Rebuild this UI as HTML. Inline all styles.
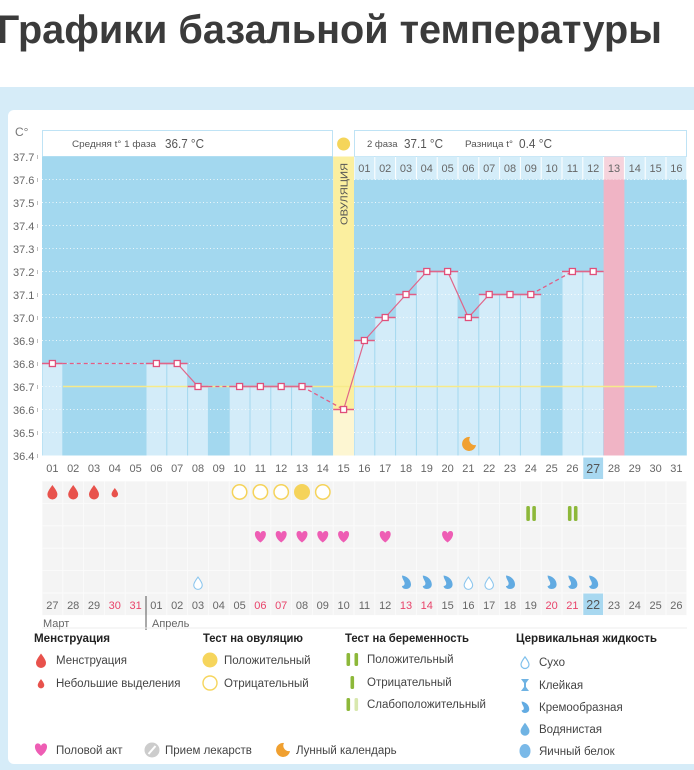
<!DOCTYPE html>
<html><head><meta charset="utf-8"><style>
html,body{margin:0;padding:0;background:#fff;}
svg{display:block;font-family:"Liberation Sans","DejaVu Sans",sans-serif;}
</style></head><body>
<svg width="694" height="770" viewBox="0 0 694 770" xmlns="http://www.w3.org/2000/svg">
<defs>
<pattern id="cells" x="42" y="481" width="20.8" height="22.4" patternUnits="userSpaceOnUse">
<rect x="0" y="0" width="20.8" height="22.4" fill="#fbfbfb"/>
<rect x="0.5" y="0.5" width="19.8" height="21.4" fill="#f4f4f4"/>
</pattern>
<path id="drop" d="M0,-7 C3,-3 5,0 5,2.5 A5,5 0 0 1 -5,2.5 C-5,0 -3,-3 0,-7Z"/>
<path id="heart" d="M0,5.5 C-7,0.5 -6.5,-6 -3,-6 C-1.2,-6 0,-4.5 0,-3.3 C0,-4.5 1.2,-6 3,-6 C6.5,-6 7,0.5 0,5.5 Z"/>
<path id="cream" d="M-4,-6.5 C1,-6 5,-2 5,2.5 C5,5.5 2.5,7 0,7 C-2.5,7 -4,5.5 -4,4 C-2,4 -1,2.5 -1.5,0.5 C-2,-1.5 -4,-3.5 -4,-6.5 Z"/>
<path id="moon" d="M1,-7 A7,7 0 1 0 7,1 A5.5,5.5 0 0 1 1,-7 Z"/>
</defs>

<!-- Title -->
<text x="-3" y="43" font-size="40" font-weight="bold" fill="#3b3b3b" textLength="665" lengthAdjust="spacingAndGlyphs">Графики базальной температуры</text>

<!-- light blue panel and card -->
<rect x="0" y="87" width="694" height="683" fill="#d6ecf8"/>
<rect x="8" y="110" width="700" height="654" rx="6" fill="#ffffff"/>

<!-- C° -->
<text x="15" y="136" font-size="12" fill="#777">C°</text>

<!-- header boxes -->
<rect x="42.5" y="130.5" width="290" height="26" fill="#fff" stroke="#bfe3f5"/>
<text x="72" y="147" font-size="9.5" fill="#555" textLength="84" lengthAdjust="spacingAndGlyphs">Средняя t° 1 фаза</text>
<text x="165" y="148" font-size="12.5" fill="#555" textLength="39" lengthAdjust="spacingAndGlyphs">36.7 °C</text>
<rect x="354.5" y="130.5" width="332" height="26" fill="#fff" stroke="#bfe3f5"/>
<text x="367" y="147" font-size="9.5" fill="#555">2 фаза</text>
<text x="404" y="148" font-size="12.5" fill="#555" textLength="39" lengthAdjust="spacingAndGlyphs">37.1 °C</text>
<text x="465" y="147" font-size="9.5" fill="#555" textLength="48" lengthAdjust="spacingAndGlyphs">Разница t°</text>
<text x="519" y="148" font-size="12.5" fill="#555" textLength="33" lengthAdjust="spacingAndGlyphs">0.4 °C</text>
<circle cx="343.6" cy="144" r="6.5" fill="#f5d55a"/>

<!-- plot backgrounds -->
<rect x="42" y="156.5" width="291.2" height="299" fill="#a3d8ef"/>
<rect x="354" y="179.5" width="332.8" height="276" fill="#a3d8ef"/>
<!-- right day row -->
<g fill="#d4edf9">
<rect x="354.5" y="156.5" width="19.8" height="23"/><rect x="375.3" y="156.5" width="19.8" height="23"/><rect x="396.1" y="156.5" width="19.8" height="23"/><rect x="416.9" y="156.5" width="19.8" height="23"/><rect x="437.7" y="156.5" width="19.8" height="23"/><rect x="458.5" y="156.5" width="19.8" height="23"/><rect x="479.3" y="156.5" width="19.8" height="23"/><rect x="500.1" y="156.5" width="19.8" height="23"/><rect x="520.9" y="156.5" width="19.8" height="23"/><rect x="541.7" y="156.5" width="19.8" height="23"/><rect x="562.5" y="156.5" width="19.8" height="23"/><rect x="583.3" y="156.5" width="19.8" height="23"/><rect x="624.9" y="156.5" width="19.8" height="23"/><rect x="645.7" y="156.5" width="19.8" height="23"/><rect x="666.5" y="156.5" width="19.8" height="23"/>
</g>
<rect x="604.1" y="156.5" width="19.8" height="23" fill="#f6d3dc"/>
<g font-size="11" fill="#666" text-anchor="middle">
<text x="364.4" y="172">01</text><text x="385.2" y="172">02</text><text x="406" y="172">03</text><text x="426.8" y="172">04</text><text x="447.6" y="172">05</text><text x="468.4" y="172">06</text><text x="489.2" y="172">07</text><text x="510" y="172">08</text><text x="530.8" y="172">09</text><text x="551.6" y="172">10</text><text x="572.4" y="172">11</text><text x="593.2" y="172">12</text><text x="614" y="172">13</text><text x="634.8" y="172">14</text><text x="655.6" y="172">15</text><text x="676.4" y="172">16</text>
</g>

<!-- ovulation column -->
<rect x="333.2" y="156.5" width="20.8" height="253" fill="#fbef9f"/>
<rect x="333.2" y="409.5" width="20.8" height="46" fill="#fdf6d2"/>
<text transform="translate(347.5,194) rotate(-90)" font-size="10" fill="#555" text-anchor="middle" textLength="62" lengthAdjust="spacingAndGlyphs">ОВУЛЯЦИЯ</text>

<!-- bars -->
<g fill="#d3ecf9">
<rect x="42.5" y="363.5" width="19.8" height="92"/>
<rect x="146.5" y="363.5" width="19.8" height="92"/>
<rect x="167.3" y="363.5" width="19.8" height="92"/>
<rect x="188.1" y="386.5" width="19.8" height="69"/>
<rect x="229.7" y="386.5" width="19.8" height="69"/>
<rect x="250.5" y="386.5" width="19.8" height="69"/>
<rect x="271.3" y="386.5" width="19.8" height="69"/>
<rect x="292.1" y="386.5" width="19.8" height="69"/>
<rect x="354.5" y="340.5" width="19.8" height="115"/>
<rect x="375.3" y="317.5" width="19.8" height="138"/>
<rect x="396.1" y="294.5" width="19.8" height="161"/>
<rect x="416.9" y="271.5" width="19.8" height="184"/>
<rect x="437.7" y="271.5" width="19.8" height="184"/>
<rect x="458.5" y="317.5" width="19.8" height="138"/>
<rect x="479.3" y="294.5" width="19.8" height="161"/>
<rect x="500.1" y="294.5" width="19.8" height="161"/>
<rect x="520.9" y="294.5" width="19.8" height="161"/>
<rect x="562.5" y="271.5" width="19.8" height="184"/>
<rect x="583.3" y="271.5" width="19.8" height="184"/>
</g>

<!-- grid dotted -->
<g stroke="#ffffff" stroke-width="1" stroke-dasharray="1,2.5" opacity="0.8">
<line x1="42" y1="179.5" x2="333" y2="179.5"/><line x1="354" y1="179.5" x2="687" y2="179.5"/>
<line x1="42" y1="202.5" x2="333" y2="202.5"/><line x1="354" y1="202.5" x2="687" y2="202.5"/>
<line x1="42" y1="225.5" x2="333" y2="225.5"/><line x1="354" y1="225.5" x2="687" y2="225.5"/>
<line x1="42" y1="248.5" x2="333" y2="248.5"/><line x1="354" y1="248.5" x2="687" y2="248.5"/>
<line x1="42" y1="271.5" x2="333" y2="271.5"/><line x1="354" y1="271.5" x2="687" y2="271.5"/>
<line x1="42" y1="294.5" x2="333" y2="294.5"/><line x1="354" y1="294.5" x2="687" y2="294.5"/>
<line x1="42" y1="317.5" x2="333" y2="317.5"/><line x1="354" y1="317.5" x2="687" y2="317.5"/>
<line x1="42" y1="340.5" x2="333" y2="340.5"/><line x1="354" y1="340.5" x2="687" y2="340.5"/>
<line x1="42" y1="363.5" x2="333" y2="363.5"/><line x1="354" y1="363.5" x2="687" y2="363.5"/>
<line x1="42" y1="386.5" x2="333" y2="386.5"/><line x1="354" y1="386.5" x2="687" y2="386.5"/>
<line x1="42" y1="409.5" x2="333" y2="409.5"/><line x1="354" y1="409.5" x2="687" y2="409.5"/>
<line x1="42" y1="432.5" x2="333" y2="432.5"/><line x1="354" y1="432.5" x2="687" y2="432.5"/>
</g>

<!-- pink column -->
<rect x="603.6" y="179.5" width="20.8" height="276" fill="#f0b4c5"/>

<!-- average line -->
<line x1="63" y1="386.5" x2="657" y2="386.5" stroke="#f7ea8a" stroke-width="1.5"/>

<!-- moon in chart -->
<use href="#moon" transform="translate(469,444)" fill="#f0a030"/>

<!-- step lines -->
<g stroke="#e35d84" stroke-width="1.5">
<line x1="42" y1="363.5" x2="62.8" y2="363.5"/>
<line x1="146" y1="363.5" x2="187.6" y2="363.5"/>
<line x1="187.6" y1="386.5" x2="208.4" y2="386.5"/>
<line x1="229.2" y1="386.5" x2="312.4" y2="386.5"/>
<line x1="333.2" y1="409.5" x2="354" y2="409.5"/>
<line x1="354" y1="340.5" x2="374.8" y2="340.5"/>
<line x1="374.8" y1="317.5" x2="395.6" y2="317.5"/>
<line x1="395.6" y1="294.5" x2="416.4" y2="294.5"/>
<line x1="416.4" y1="271.5" x2="458" y2="271.5"/>
<line x1="458" y1="317.5" x2="478.8" y2="317.5"/>
<line x1="478.8" y1="294.5" x2="541.2" y2="294.5"/>
<line x1="562" y1="271.5" x2="603.6" y2="271.5"/>
</g>
<!-- dashed gaps -->
<g stroke="#e35d84" stroke-width="1.3" stroke-dasharray="4,3" fill="none">
<line x1="62.8" y1="363.5" x2="146" y2="363.5"/>
<line x1="208.4" y1="386.5" x2="229.2" y2="386.5"/>
<line x1="302" y1="386.5" x2="343.6" y2="409.5"/>
<line x1="530.8" y1="294.5" x2="572.4" y2="271.5"/>
</g>
<!-- connections -->
<polyline fill="none" stroke="#e0668a" stroke-width="1.2" points="156.4,363.5 177.2,363.5 198,386.5"/>
<polyline fill="none" stroke="#e0668a" stroke-width="1.2" points="239.6,386.5 302,386.5"/>
<polyline fill="none" stroke="#e0668a" stroke-width="1.2" points="343.6,409.5 364.4,340.5 385.2,317.5 406,294.5 426.8,271.5 447.6,271.5 468.4,317.5 489.2,294.5 510,294.5 530.8,294.5"/>
<polyline fill="none" stroke="#e0668a" stroke-width="1.2" points="572.4,271.5 593.2,271.5"/>
<!-- markers -->
<g fill="#fff" stroke="#e04f7a" stroke-width="1.3">
<rect x="49.4" y="360.5" width="6" height="6"/>
<rect x="153.4" y="360.5" width="6" height="6"/>
<rect x="174.2" y="360.5" width="6" height="6"/>
<rect x="195" y="383.5" width="6" height="6"/>
<rect x="236.6" y="383.5" width="6" height="6"/>
<rect x="257.4" y="383.5" width="6" height="6"/>
<rect x="278.2" y="383.5" width="6" height="6"/>
<rect x="299" y="383.5" width="6" height="6"/>
<rect x="340.6" y="406.5" width="6" height="6"/>
<rect x="361.4" y="337.5" width="6" height="6"/>
<rect x="382.2" y="314.5" width="6" height="6"/>
<rect x="403" y="291.5" width="6" height="6"/>
<rect x="423.8" y="268.5" width="6" height="6"/>
<rect x="444.6" y="268.5" width="6" height="6"/>
<rect x="465.4" y="314.5" width="6" height="6"/>
<rect x="486.2" y="291.5" width="6" height="6"/>
<rect x="507" y="291.5" width="6" height="6"/>
<rect x="527.8" y="291.5" width="6" height="6"/>
<rect x="569.4" y="268.5" width="6" height="6"/>
<rect x="590.2" y="268.5" width="6" height="6"/>
</g>

<!-- Y labels -->
<g font-size="11" fill="#666">
<text x="13" y="161">37.7</text><text x="13" y="184">37.6</text><text x="13" y="207">37.5</text><text x="13" y="230">37.4</text><text x="13" y="253">37.3</text><text x="13" y="276">37.2</text><text x="13" y="299">37.1</text><text x="13" y="322">37.0</text><text x="13" y="345">36.9</text><text x="13" y="368">36.8</text><text x="13" y="391">36.7</text><text x="13" y="414">36.6</text><text x="13" y="437">36.5</text><text x="13" y="460">36.4</text>
</g>
<g stroke="#bbb" stroke-width="1">
<line x1="37.5" y1="155" x2="37.5" y2="159"/><line x1="37.5" y1="178" x2="37.5" y2="182"/><line x1="37.5" y1="201" x2="37.5" y2="205"/><line x1="37.5" y1="224" x2="37.5" y2="228"/><line x1="37.5" y1="247" x2="37.5" y2="251"/><line x1="37.5" y1="270" x2="37.5" y2="274"/><line x1="37.5" y1="293" x2="37.5" y2="297"/><line x1="37.5" y1="316" x2="37.5" y2="320"/><line x1="37.5" y1="339" x2="37.5" y2="343"/><line x1="37.5" y1="362" x2="37.5" y2="366"/><line x1="37.5" y1="385" x2="37.5" y2="389"/><line x1="37.5" y1="408" x2="37.5" y2="412"/><line x1="37.5" y1="431" x2="37.5" y2="435"/><line x1="37.5" y1="454" x2="37.5" y2="458"/>
</g>

<!-- top date row -->
<rect x="583.3" y="457.5" width="19.8" height="21.5" fill="#a8d8f0"/>
<g font-size="11" fill="#666" text-anchor="middle">
<text x="52.4" y="472">01</text><text x="73.2" y="472">02</text><text x="94" y="472">03</text><text x="114.8" y="472">04</text><text x="135.6" y="472">05</text><text x="156.4" y="472">06</text><text x="177.2" y="472">07</text><text x="198" y="472">08</text><text x="218.8" y="472">09</text><text x="239.6" y="472">10</text><text x="260.4" y="472">11</text><text x="281.2" y="472">12</text><text x="302" y="472">13</text><text x="322.8" y="472">14</text><text x="343.6" y="472">15</text><text x="364.4" y="472">16</text><text x="385.2" y="472">17</text><text x="406" y="472">18</text><text x="426.8" y="472">19</text><text x="447.6" y="472">20</text><text x="468.4" y="472">21</text><text x="489.2" y="472">22</text><text x="510" y="472">23</text><text x="530.8" y="472">24</text><text x="551.6" y="472">25</text><text x="572.4" y="472">26</text><text x="614" y="472">28</text><text x="634.8" y="472">29</text><text x="655.6" y="472">30</text><text x="676.4" y="472">31</text>
</g>
<text x="593.2" y="473" font-size="12.5" fill="#555" text-anchor="middle">27</text>

<!-- icon grid rows -->
<rect x="42" y="481" width="644.8" height="134.4" fill="url(#cells)"/>

<!-- row1: drops -->
<g fill="#e8524c">
<use href="#drop" transform="translate(52.4,492)"/>
<use href="#drop" transform="translate(73.2,492)"/>
<use href="#drop" transform="translate(94,492)"/>
<use href="#drop" transform="translate(114.8,492.5) scale(0.65)"/>
</g>
<g fill="#fff" stroke="#f5d35a" stroke-width="1.5">
<circle cx="239.6" cy="492" r="7.2"/><circle cx="260.4" cy="492" r="7.2"/><circle cx="281.2" cy="492" r="7.2"/><circle cx="322.8" cy="492" r="7.2"/>
</g>
<circle cx="302" cy="492" r="8" fill="#f5d35a"/>
<!-- row2: pregnancy -->
<g fill="#8db83a">
<rect x="526.3" y="506" width="3.6" height="15" rx="1.5"/><rect x="532.3" y="506" width="3.6" height="15" rx="1.5"/>
<rect x="567.9" y="506" width="3.6" height="15" rx="1.5"/><rect x="573.9" y="506" width="3.6" height="15" rx="1.5"/>
</g>
<!-- row3: hearts -->
<g fill="#ee5db4">
<use href="#heart" transform="translate(260.4,537)"/><use href="#heart" transform="translate(281.2,537)"/><use href="#heart" transform="translate(302,537)"/><use href="#heart" transform="translate(322.8,537)"/><use href="#heart" transform="translate(343.6,537)"/><use href="#heart" transform="translate(385.2,537)"/><use href="#heart" transform="translate(447.6,537)"/>
</g>
<!-- row5: cervical -->
<g fill="#fff" stroke="#8cc6ee" stroke-width="1.3">
<use href="#drop" transform="translate(198,583) scale(0.85)"/>
<use href="#drop" transform="translate(468.4,583) scale(0.85)"/>
<use href="#drop" transform="translate(489.2,583) scale(0.85)"/>
</g>
<g fill="#62abe2">
<use href="#cream" transform="translate(406,582)"/><use href="#cream" transform="translate(426.8,582)"/><use href="#cream" transform="translate(447.6,582)"/><use href="#cream" transform="translate(510,582)"/><use href="#cream" transform="translate(551.6,582)"/><use href="#cream" transform="translate(572.4,582)"/><use href="#cream" transform="translate(593.2,582)"/>
</g>

<!-- bottom date row -->
<rect x="583.3" y="593.5" width="19.8" height="21.5" fill="#a8d8f0"/>
<g font-size="11" fill="#666" text-anchor="middle">
<text x="52.4" y="609">27</text><text x="73.2" y="609">28</text><text x="94" y="609">29</text><text x="114.8" y="609" fill="#e8436a">30</text><text x="135.6" y="609" fill="#e8436a">31</text><text x="156.4" y="609">01</text><text x="177.2" y="609">02</text><text x="198" y="609">03</text><text x="218.8" y="609">04</text><text x="239.6" y="609">05</text><text x="260.4" y="609" fill="#e8436a">06</text><text x="281.2" y="609" fill="#e8436a">07</text><text x="302" y="609">08</text><text x="322.8" y="609">09</text><text x="343.6" y="609">10</text><text x="364.4" y="609">11</text><text x="385.2" y="609">12</text><text x="406" y="609" fill="#e8436a">13</text><text x="426.8" y="609" fill="#e8436a">14</text><text x="447.6" y="609">15</text><text x="468.4" y="609">16</text><text x="489.2" y="609">17</text><text x="510" y="609">18</text><text x="530.8" y="609">19</text><text x="551.6" y="609" fill="#e8436a">20</text><text x="572.4" y="609" fill="#e8436a">21</text><text x="614" y="609">23</text><text x="634.8" y="609">24</text><text x="655.6" y="609">25</text><text x="676.4" y="609">26</text>
</g>
<text x="593.2" y="609" font-size="12.5" fill="#555" text-anchor="middle">22</text>
<line x1="146" y1="596" x2="146" y2="630" stroke="#555" stroke-width="1"/>
<text x="43" y="627" font-size="11" fill="#666">Март</text>
<text x="152" y="627" font-size="11" fill="#666">Апрель</text>
<line x1="42" y1="628" x2="687" y2="628" stroke="#eeeeee" stroke-width="1"/>

<!-- Legend titles -->
<g font-size="12" font-weight="bold" fill="#222">
<text x="34" y="642" textLength="76" lengthAdjust="spacingAndGlyphs">Менструация</text>
<text x="203" y="642" textLength="100" lengthAdjust="spacingAndGlyphs">Тест на овуляцию</text>
<text x="345" y="642" textLength="124" lengthAdjust="spacingAndGlyphs">Тест на беременность</text>
<text x="516" y="642" textLength="141" lengthAdjust="spacingAndGlyphs">Цервикальная жидкость</text>
</g>
<!-- Legend items -->
<g font-size="11.5" fill="#444">
<text x="56" y="664">Менструация</text>
<text x="56" y="687">Небольшие выделения</text>
<text x="224" y="664">Положительный</text>
<text x="224" y="687">Отрицательный</text>
<text x="367" y="663">Положительный</text>
<text x="367" y="686">Отрицательный</text>
<text x="367" y="708">Слабоположительный</text>
<text x="539" y="666">Сухо</text>
<text x="539" y="689">Клейкая</text>
<text x="539" y="711">Кремообразная</text>
<text x="539" y="733">Водянистая</text>
<text x="539" y="755">Яичный белок</text>
<text x="56" y="754">Половой акт</text>
<text x="165" y="754">Прием лекарств</text>
<text x="296" y="754">Лунный календарь</text>
</g>
<!-- Legend icons -->
<use href="#drop" transform="translate(41,660.5)" fill="#e8524c"/>
<use href="#drop" transform="translate(41,683.5) scale(0.65)" fill="#e8524c"/>
<circle cx="210" cy="660" r="7.5" fill="#f6d55c"/>
<circle cx="210" cy="683" r="7" fill="#fff" stroke="#f6d55c" stroke-width="1.4"/>
<g fill="#8db83a">
<rect x="346.5" y="653" width="3.6" height="13" rx="1.5"/><rect x="354.5" y="653" width="3.6" height="13" rx="1.5"/>
<rect x="350.5" y="676" width="3.6" height="13" rx="1.5"/>
<rect x="346.5" y="698" width="3.6" height="13" rx="1.5"/>
</g>
<rect x="354.5" y="698" width="3.6" height="13" rx="1.5" fill="#d8e8ae"/>
<use href="#drop" transform="translate(525,662.5) scale(0.8)" fill="#fff" stroke="#7fc0ec" stroke-width="1.5"/>
<path d="M-4,-6 H4 L1,-2 V2 L4,6 H-4 L-1,2 V-2 Z" transform="translate(525,685)" fill="#6fb3e3"/>
<use href="#cream" transform="translate(525,707) scale(0.85)" fill="#62abe2"/>
<use href="#drop" transform="translate(525,729) scale(0.9)" fill="#6fb3e3"/>
<ellipse cx="525" cy="751" rx="5.5" ry="7" fill="#7ab9e8"/>
<use href="#heart" transform="translate(41,750) scale(1.1)" fill="#ee5db4"/>
<circle cx="152" cy="750" r="7.5" fill="#cccccc"/>
<line x1="148.5" y1="754" x2="155.5" y2="746" stroke="#fff" stroke-width="2"/>
<use href="#moon" transform="translate(283,750)" fill="#f0a030"/>
</svg>
</body></html>
